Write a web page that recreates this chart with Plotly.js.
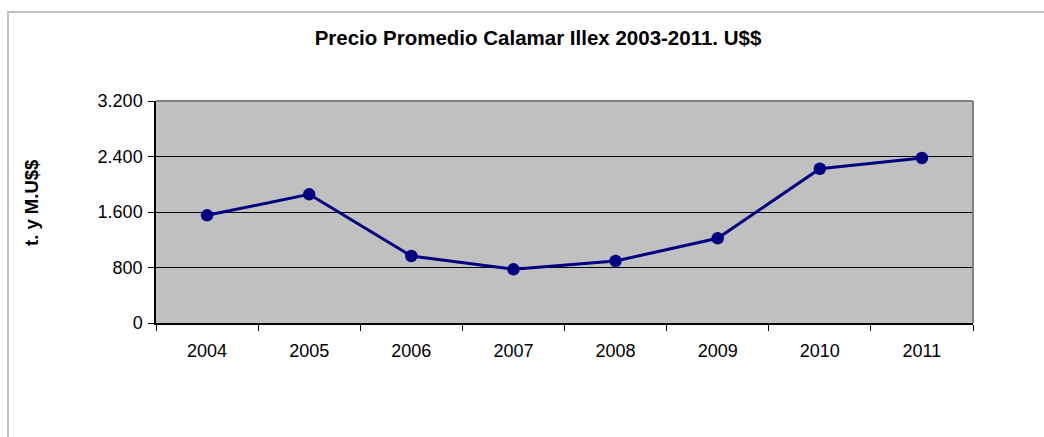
<!DOCTYPE html>
<html>
<head>
<meta charset="utf-8">
<script src="https://cdn.plot.ly/plotly-3.0.1.min.js"></script>
<style>
  html, body { margin: 0; padding: 0; background: #ffffff; overflow: hidden; }
  #chart { width: 1044px; height: 437px; }
  #frame { position: absolute; left: 7px; top: 11px; width: 1100px; height: 500px;
           border-left: 2px solid #c0c0c0; border-top: 2px solid #c0c0c0; pointer-events: none; }
</style>
</head>
<body>
<div id="chart"></div>
<div id="frame"></div>
<script>
const years = ['2004', '2005', '2006', '2007', '2008', '2009', '2010', '2011'];
const prices = [1552, 1855, 966, 774, 894, 1221, 2224, 2378];
const yTickVals = [0, 800, 1600, 2400, 3200];
const yTickText = ['0', '800', '1.600', '2.400', '3.200'];
const chartTitle = 'Precio Promedio Calamar Illex 2003-2011. U$$';
const yTitle = 't. y M.U$$';

const trace = {
  x: years,
  y: prices,
  type: 'scatter',
  mode: 'lines+markers',
  line: { color: '#000080', width: 3 },
  marker: { color: '#000080', size: 12.5 },
  hoverinfo: 'x+y'
};

const font = 'Arial, "Liberation Sans", sans-serif';

const layout = {
  width: 1044,
  height: 437,
  margin: { l: 156, r: 71, t: 101, b: 114 },
  paper_bgcolor: 'rgba(0,0,0,0)',
  plot_bgcolor: '#c0c0c0',
  showlegend: false,
  font: { family: font, size: 18, color: '#000000' },
  title: {
    text: '<b>' + chartTitle + '</b>',
    font: { family: font, size: 20.5, color: '#000000' },
    x: 538 / 1044, xanchor: 'center', xref: 'container',
    y: 1 - 38 / 437, yref: 'container', yanchor: 'middle'
  },
  xaxis: {
    type: 'category',
    range: [-0.5, 7.5],
    tickson: 'boundaries',
    ticks: 'outside',
    ticklen: 6,
    tickcolor: '#000000',
    tickwidth: 1,
    showline: true,
    linecolor: '#000000',
    linewidth: 1.5,
    showgrid: false,
    zeroline: false,
    ticklabelstandoff: 11,
    tickfont: { family: font, size: 18, color: '#000000' },
    fixedrange: true
  },
  yaxis: {
    range: [0, 3200],
    tickvals: yTickVals,
    ticktext: yTickText,
    ticks: 'outside',
    ticklen: 6,
    tickcolor: '#000000',
    tickwidth: 1,
    showline: true,
    linecolor: '#000000',
    linewidth: 1.5,
    showgrid: true,
    gridcolor: '#000000',
    gridwidth: 1,
    zeroline: false,
    ticklabelstandoff: 2,
    tickfont: { family: font, size: 18, color: '#000000' },
    fixedrange: true
  },
  shapes: [
    { type: 'line', xref: 'paper', yref: 'paper', x0: 0, x1: 1, y0: 1, y1: 1,
      line: { color: '#808080', width: 2 }, layer: 'above' },
    { type: 'line', xref: 'paper', yref: 'paper', x0: 1, x1: 1, y0: 0, y1: 1,
      line: { color: '#808080', width: 2 }, layer: 'above' }
  ],
  annotations: [
    { text: '<b>' + yTitle + '</b>', xref: 'paper', yref: 'paper',
      x: (31 - 156) / 817, y: (323 - 203) / 222, xanchor: 'center', yanchor: 'middle',
      textangle: -90, showarrow: false, font: { family: font, size: 18.5, color: '#000000' } }
  ]
};

Plotly.newPlot('chart', [trace], layout, { displayModeBar: false, staticPlot: false });
</script>
</body>
</html>
